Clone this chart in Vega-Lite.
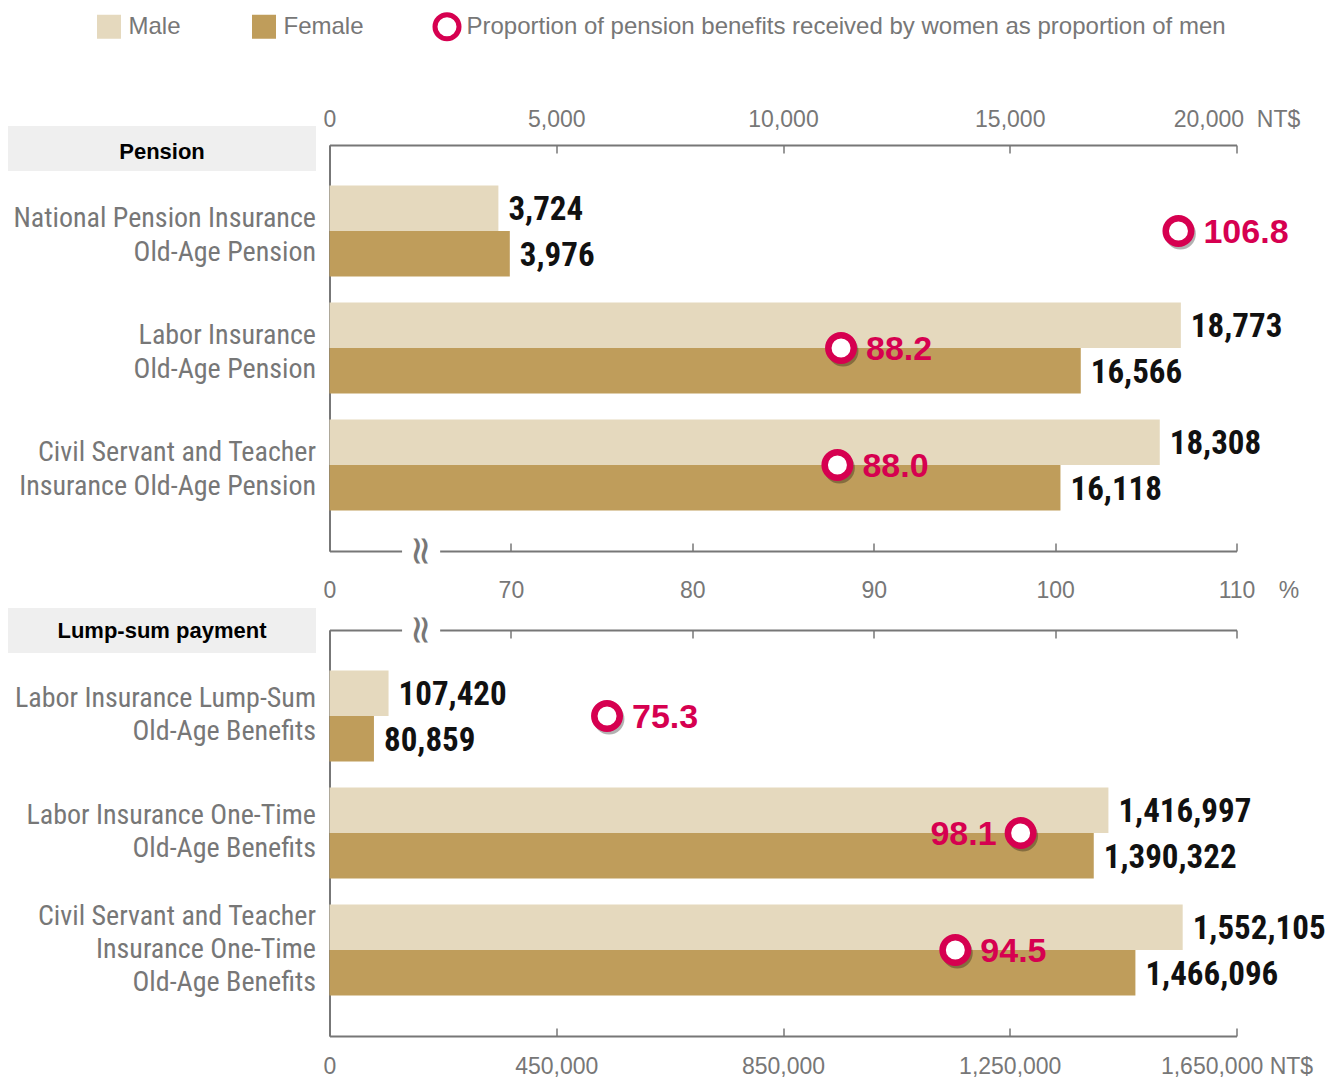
{
  "$schema": "https://vega.github.io/schema/vega-lite/v6.json",
  "padding": {"left": -15.5, "top": 12, "right": 5, "bottom": 5},
  "datasets": {
    "bars": [
      {"section": "Pension", "program": "National Pension Insurance|Old-Age Pension", "sex": "Male", "value": 3724},
      {"section": "Pension", "program": "National Pension Insurance|Old-Age Pension", "sex": "Female", "value": 3976},
      {"section": "Pension", "program": "Labor Insurance|Old-Age Pension", "sex": "Male", "value": 18773},
      {"section": "Pension", "program": "Labor Insurance|Old-Age Pension", "sex": "Female", "value": 16566},
      {"section": "Pension", "program": "Civil Servant and Teacher|Insurance Old-Age Pension", "sex": "Male", "value": 18308},
      {"section": "Pension", "program": "Civil Servant and Teacher|Insurance Old-Age Pension", "sex": "Female", "value": 16118},
      {"section": "Lump-sum payment", "program": "Labor Insurance Lump-Sum|Old-Age Benefits", "sex": "Male", "value": 107420},
      {"section": "Lump-sum payment", "program": "Labor Insurance Lump-Sum|Old-Age Benefits", "sex": "Female", "value": 80859},
      {"section": "Lump-sum payment", "program": "Labor Insurance One-Time|Old-Age Benefits", "sex": "Male", "value": 1416997},
      {"section": "Lump-sum payment", "program": "Labor Insurance One-Time|Old-Age Benefits", "sex": "Female", "value": 1390322},
      {"section": "Lump-sum payment", "program": "Civil Servant and Teacher|Insurance One-Time|Old-Age Benefits", "sex": "Male", "value": 1552105},
      {"section": "Lump-sum payment", "program": "Civil Servant and Teacher|Insurance One-Time|Old-Age Benefits", "sex": "Female", "value": 1466096}
    ],
    "ratios": [
      {"section": "Pension", "program": "National Pension Insurance|Old-Age Pension", "ratio": 106.8},
      {"section": "Pension", "program": "Labor Insurance|Old-Age Pension", "ratio": 88.2},
      {"section": "Pension", "program": "Civil Servant and Teacher|Insurance Old-Age Pension", "ratio": 88.0},
      {"section": "Lump-sum payment", "program": "Labor Insurance Lump-Sum|Old-Age Benefits", "ratio": 75.3},
      {"section": "Lump-sum payment", "program": "Labor Insurance One-Time|Old-Age Benefits", "ratio": 98.1},
      {"section": "Lump-sum payment", "program": "Civil Servant and Teacher|Insurance One-Time|Old-Age Benefits", "ratio": 94.5}
    ],
    "sections": [{"section": "Pension"}, {"section": "Lump-sum payment"}],
    "blank": [{}]
  },
  "bounds": "flush",
  "spacing": 79,
  "vconcat": [
    {
      "width": 907,
      "height": 406,
      "resolve": {"scale": {"x": "independent", "y": "independent"}, "axis": {"x": "independent", "y": "independent"}},
      "layer": [
        {
          "data": {"name": "sections"},
          "transform": [{"filter": "datum.section == 'Pension'"}],
          "mark": {"type": "point", "opacity": 0},
          "encoding": {
            "y": {"field": "section", "type": "nominal", "scale": {"type": "band", "paddingInner": 0, "paddingOuter": 0},
              "axis": {"orient": "left", "offset": 14, "domain": false, "bandPosition": 0, "tickOffset": 3, "ticks": true, "tickSize": 308, "tickWidth": 45, "tickColor": "#efefef", "tickCap": "butt", "labelPadding": -154, "labelOffset": -200, "labelAlign": "center", "labelBaseline": "middle", "labelFontSize": 22, "labelFontWeight": "bold", "labelColor": "#000000", "labelFont": "Liberation Sans", "labelLimit": 0, "title": null, "grid": false}}
          }
        },
        {
          "data": {"name": "bars"},
          "transform": [{"filter": "datum.section == 'Pension'"}],
          "encoding": {
            "y": {"field": "program", "type": "nominal", "sort": null,
              "scale": {"type": "band", "domain": ["National Pension Insurance|Old-Age Pension", "Labor Insurance|Old-Age Pension", "Civil Servant and Teacher|Insurance Old-Age Pension"], "paddingInner": 0.222, "paddingOuter": 0.346},
              "axis": {"orient": "left", "domain": true, "domainColor": "#777777", "domainWidth": 2, "ticks": false, "labelPadding": 14, "labelOffset": -12, "labelFont": "Roboto Condensed, DejaVu Sans Condensed, sans-serif", "labelFontSize": 28, "labelColor": "#777777", "labelLineHeight": 34, "labelAlign": "right", "labelBaseline": "middle", "labelLimit": 0, "labelExpr": "split(datum.label, '|')", "title": null, "grid": false}},
            "yOffset": {"field": "sex", "type": "nominal", "sort": null, "scale": {"domain": ["Male", "Female"], "paddingInner": 0, "paddingOuter": 0}},
            "x": {"field": "value", "type": "quantitative", "scale": {"domain": [0, 20000], "nice": false, "zero": true},
              "axis": {"orient": "top", "values": [0, 5000, 10000, 15000, 20000], "labelExpr": "datum.value == 20000 ? '20,000\u00a0 NT$' : format(datum.value, ',')", "tickSize": -8, "tickWidth": 1.5, "tickColor": "#777777", "domainColor": "#777777", "domainWidth": 2, "labelPadding": 22, "labelColor": "#777777", "labelFontSize": 23, "labelFont": "Liberation Sans", "labelOverlap": false, "labelFlush": false, "title": null, "grid": false}}
          },
          "layer": [
            {
              "mark": {"type": "bar"},
              "encoding": {
                "color": {"field": "sex", "type": "nominal",
                  "scale": {"domain": ["Male", "Female", "Proportion of pension benefits received by women as proportion of men"], "range": ["#e5d9be", "#bf9d5b", "#ffffff"]},
                  "legend": {"orient": "none", "legendX": -235, "legendY": -133, "direction": "horizontal", "title": null, "symbolType": "square", "symbolSize": 576, "labelFontSize": 24, "labelColor": "#777777", "labelFont": "Liberation Sans", "labelOffset": 5, "columnPadding": 60, "labelLimit": 1000,
                    "encode": {"symbols": {"update": {
                      "shape": [{"test": "datum.value == 'Male' || datum.value == 'Female'", "value": "square"}, {"value": "circle"}],
                      "fill": [{"test": "datum.value == 'Male'", "value": "#e5d9be"}, {"test": "datum.value == 'Female'", "value": "#bf9d5b"}, {"value": "#ffffff"}],
                      "stroke": [{"test": "datum.value == 'Male' || datum.value == 'Female'", "value": "transparent"}, {"value": "#d60050"}],
                      "strokeWidth": {"value": 5},
                      "opacity": {"value": 1}
                    }}}}
                }
              }
            },
            {
              "mark": {"type": "text", "align": "left", "baseline": "middle", "dx": 10, "dy": 2, "font": "Roboto Condensed, DejaVu Sans Condensed, sans-serif", "fontSize": 33, "fontWeight": "bold", "color": "#111111"},
              "encoding": {"text": {"field": "value", "type": "quantitative", "format": ","}}
            }
          ]
        },
        {
          "data": {"name": "ratios"},
          "transform": [{"filter": "datum.section == 'Pension'"}],
          "encoding": {
            "x": {"field": "ratio", "type": "quantitative", "scale": {"domain": [60, 110], "nice": false, "zero": false},
              "axis": {"orient": "bottom", "values": [60, 70, 80, 90, 100, 110], "labelExpr": "datum.value == 60 ? '0' : datum.label", "tickSize": -8, "tickWidth": 1.5, "tickColor": "#777777", "domainColor": "#777777", "domainWidth": 2, "labelPadding": 36, "labelColor": "#777777", "labelFontSize": 23, "labelFont": "Liberation Sans", "labelOverlap": false, "labelFlush": false, "zindex": 0, "grid": false,
                "title": "%", "titleX": 959, "titleY": 28, "titleAlign": "center", "titleBaseline": "top", "titleColor": "#777777", "titleFontSize": 23, "titleFontWeight": "normal", "titleFont": "Liberation Sans"}},
            "y": {"field": "program", "type": "nominal", "sort": null,
              "scale": {"type": "band", "domain": ["National Pension Insurance|Old-Age Pension", "Labor Insurance|Old-Age Pension", "Civil Servant and Teacher|Insurance Old-Age Pension"], "paddingInner": 0.222, "paddingOuter": 0.346},
              "axis": null}
          },
          "layer": [
            {"mark": {"type": "point", "shape": "circle", "filled": true, "color": "#000000", "opacity": 0.3, "size": 950, "xOffset": 2, "yOffset": 3, "strokeWidth": 0}},
            {"mark": {"type": "point", "shape": "circle", "filled": true, "fill": "#ffffff", "stroke": "#d60050", "strokeWidth": 6.5, "size": 650, "opacity": 1}},
            {
              "mark": {"type": "text", "align": "left", "baseline": "middle", "dx": 25, "dy": 2, "font": "Liberation Sans", "fontSize": 34, "fontWeight": "bold", "color": "#d60050"},
              "encoding": {"text": {"field": "ratio", "type": "quantitative", "format": ".1f"}}
            }
          ]
        },
        {
          "data": {"name": "blank"},
          "encoding": {"y": {"datum": 0, "type": "quantitative", "scale": {"domain": [0, 1]}, "axis": null}},
          "layer": [
            {
              "mark": {"type": "rule", "color": "#ffffff", "strokeWidth": 6},
              "encoding": {"x": {"datum": 64, "type": "quantitative", "scale": {"domain": [60, 110], "nice": false, "zero": false}, "axis": null}, "x2": {"datum": 66.1}}
            },
            {
              "mark": {"type": "text", "text": "\u2248", "angle": 90, "font": "DejaVu Sans", "fontSize": 40, "color": "#777777", "align": "center", "baseline": "middle"},
              "encoding": {"x": {"datum": 65, "type": "quantitative", "scale": {"domain": [60, 110], "nice": false, "zero": false}, "axis": null}}
            }
          ]
        }
      ]
    },
    {
      "width": 907,
      "height": 406,
      "resolve": {"scale": {"x": "independent", "y": "independent"}, "axis": {"x": "independent", "y": "independent"}},
      "layer": [
        {
          "data": {"name": "sections"},
          "transform": [{"filter": "datum.section == 'Lump-sum payment'"}],
          "mark": {"type": "point", "opacity": 0},
          "encoding": {
            "y": {"field": "section", "type": "nominal", "scale": {"type": "band", "paddingInner": 0, "paddingOuter": 0},
              "axis": {"orient": "left", "offset": 14, "domain": false, "bandPosition": 0, "tickOffset": 0, "ticks": true, "tickSize": 308, "tickWidth": 45, "tickColor": "#efefef", "tickCap": "butt", "labelPadding": -154, "labelOffset": -203, "labelAlign": "center", "labelBaseline": "middle", "labelFontSize": 22, "labelFontWeight": "bold", "labelColor": "#000000", "labelFont": "Liberation Sans", "labelLimit": 0, "title": null, "grid": false}}
          }
        },
        {
          "data": {"name": "bars"},
          "transform": [{"filter": "datum.section == 'Lump-sum payment'"}],
          "encoding": {
            "y": {"field": "program", "type": "nominal", "sort": null,
              "scale": {"type": "band", "domain": ["Labor Insurance Lump-Sum|Old-Age Benefits", "Labor Insurance One-Time|Old-Age Benefits", "Civil Servant and Teacher|Insurance One-Time|Old-Age Benefits"], "paddingInner": 0.222, "paddingOuter": 0.346},
              "axis": {"orient": "left", "domain": true, "domainColor": "#777777", "domainWidth": 2, "ticks": false, "labelPadding": 14,
                "labelOffset": {"condition": {"test": "datum.value == 'Civil Servant and Teacher|Insurance One-Time|Old-Age Benefits'", "value": -33}, "value": -17},
                "labelFont": "Roboto Condensed, DejaVu Sans Condensed, sans-serif", "labelFontSize": 28, "labelColor": "#777777", "labelLineHeight": 33, "labelAlign": "right", "labelBaseline": "middle", "labelLimit": 0, "labelExpr": "split(datum.label, '|')", "title": null, "grid": false}},
            "yOffset": {"field": "sex", "type": "nominal", "sort": null, "scale": {"domain": ["Male", "Female"], "paddingInner": 0, "paddingOuter": 0}},
            "x": {"field": "value", "type": "quantitative", "scale": {"domain": [0, 1650000], "nice": false, "zero": true},
              "axis": {"orient": "bottom", "values": [0, 412500, 825000, 1237500, 1650000], "labelExpr": "datum.value == 0 ? '0' : datum.value == 412500 ? '450,000' : datum.value == 825000 ? '850,000' : datum.value == 1237500 ? '1,250,000' : '1,650,000 NT$'", "tickSize": -8, "tickWidth": 1.5, "tickColor": "#777777", "domainColor": "#777777", "domainWidth": 2, "labelPadding": 27, "labelColor": "#777777", "labelFontSize": 23, "labelFont": "Liberation Sans", "labelOverlap": false, "labelFlush": false, "title": null, "grid": false}}
          },
          "layer": [
            {
              "mark": {"type": "bar"},
              "encoding": {
                "color": {"field": "sex", "type": "nominal",
                  "scale": {"domain": ["Male", "Female", "Proportion of pension benefits received by women as proportion of men"], "range": ["#e5d9be", "#bf9d5b", "#ffffff"]},
                  "legend": {"orient": "none", "legendX": -235, "legendY": -133, "direction": "horizontal", "title": null, "symbolType": "square", "symbolSize": 576, "labelFontSize": 24, "labelColor": "#777777", "labelFont": "Liberation Sans", "labelOffset": 5, "columnPadding": 60, "labelLimit": 1000,
                    "encode": {"symbols": {"update": {
                      "shape": [{"test": "datum.value == 'Male' || datum.value == 'Female'", "value": "square"}, {"value": "circle"}],
                      "fill": [{"test": "datum.value == 'Male'", "value": "#e5d9be"}, {"test": "datum.value == 'Female'", "value": "#bf9d5b"}, {"value": "#ffffff"}],
                      "stroke": [{"test": "datum.value == 'Male' || datum.value == 'Female'", "value": "transparent"}, {"value": "#d60050"}],
                      "strokeWidth": {"value": 5},
                      "opacity": {"value": 1}
                    }}}}
                }
              }
            },
            {
              "mark": {"type": "text", "align": "left", "baseline": "middle", "dx": 10, "dy": 2, "font": "Roboto Condensed, DejaVu Sans Condensed, sans-serif", "fontSize": 33, "fontWeight": "bold", "color": "#111111"},
              "encoding": {"text": {"field": "value", "type": "quantitative", "format": ","}}
            }
          ]
        },
        {
          "data": {"name": "ratios"},
          "transform": [{"filter": "datum.section == 'Lump-sum payment'"}],
          "encoding": {
            "x": {"field": "ratio", "type": "quantitative", "scale": {"domain": [60, 110], "nice": false, "zero": false},
              "axis": {"orient": "top", "values": [60, 70, 80, 90, 100, 110], "labels": false, "tickSize": -8, "tickWidth": 1.5, "tickColor": "#777777", "domainColor": "#777777", "domainWidth": 2, "zindex": 0, "grid": false, "title": null}},
            "y": {"field": "program", "type": "nominal", "sort": null,
              "scale": {"type": "band", "domain": ["Labor Insurance Lump-Sum|Old-Age Benefits", "Labor Insurance One-Time|Old-Age Benefits", "Civil Servant and Teacher|Insurance One-Time|Old-Age Benefits"], "paddingInner": 0.222, "paddingOuter": 0.346},
              "axis": null}
          },
          "layer": [
            {"mark": {"type": "point", "shape": "circle", "filled": true, "color": "#000000", "opacity": 0.3, "size": 950, "xOffset": 2, "yOffset": 3, "strokeWidth": 0}},
            {"mark": {"type": "point", "shape": "circle", "filled": true, "fill": "#ffffff", "stroke": "#d60050", "strokeWidth": 6.5, "size": 650, "opacity": 1}},
            {
              "transform": [{"filter": "datum.program != 'Labor Insurance One-Time|Old-Age Benefits'"}],
              "mark": {"type": "text", "align": "left", "baseline": "middle", "dx": 25, "dy": 2, "font": "Liberation Sans", "fontSize": 34, "fontWeight": "bold", "color": "#d60050"},
              "encoding": {"text": {"field": "ratio", "type": "quantitative", "format": ".1f"}}
            },
            {
              "transform": [{"filter": "datum.program == 'Labor Insurance One-Time|Old-Age Benefits'"}],
              "mark": {"type": "text", "align": "right", "baseline": "middle", "dx": -24, "dy": 2, "font": "Liberation Sans", "fontSize": 34, "fontWeight": "bold", "color": "#d60050"},
              "encoding": {"text": {"field": "ratio", "type": "quantitative", "format": ".1f"}}
            }
          ]
        },
        {
          "data": {"name": "blank"},
          "encoding": {"y": {"datum": 1, "type": "quantitative", "scale": {"domain": [0, 1]}, "axis": null}},
          "layer": [
            {
              "mark": {"type": "rule", "color": "#ffffff", "strokeWidth": 6},
              "encoding": {"x": {"datum": 64, "type": "quantitative", "scale": {"domain": [60, 110], "nice": false, "zero": false}, "axis": null}, "x2": {"datum": 66.1}}
            },
            {
              "mark": {"type": "text", "text": "\u2248", "angle": 90, "font": "DejaVu Sans", "fontSize": 40, "color": "#777777", "align": "center", "baseline": "middle"},
              "encoding": {"x": {"datum": 65, "type": "quantitative", "scale": {"domain": [60, 110], "nice": false, "zero": false}, "axis": null}}
            }
          ]
        }
      ]
    }
  ],
  "config": {
    "view": {"stroke": null},
    "font": "Liberation Sans",
    "axis": {"grid": false}
  }
}
